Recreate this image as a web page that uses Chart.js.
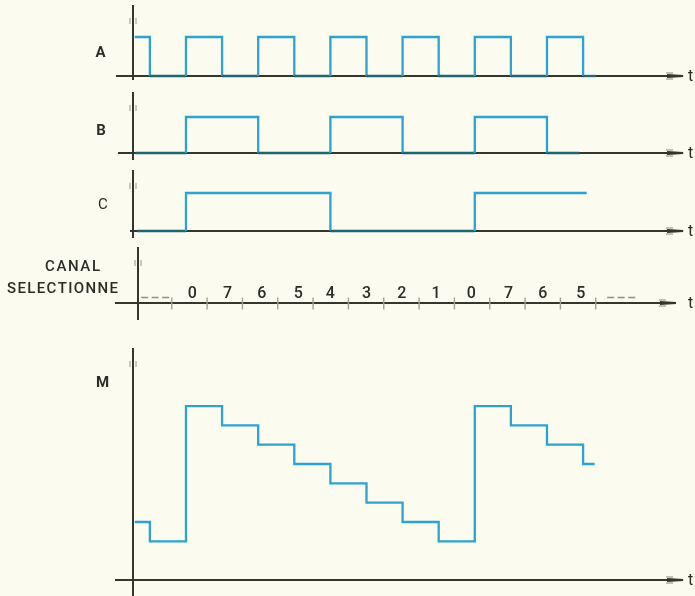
<!DOCTYPE html>
<html>
<head>
<meta charset="utf-8">
<style>
  html, body { margin: 0; padding: 0; background: #fbfbf0; }
  #wrap { position: relative; width: 695px; height: 596px; overflow: hidden; background: #fbfbf0; }
  #wrap canvas { position: absolute; left: 0; }
</style>
</head>
<body>
<div id="wrap"></div>

<script src="https://cdn.jsdelivr.net/npm/chart.js"></script>

<script>
  // time is counted in channel slots, every edge falls on a whole slot
  const a_times = [-0.42, 0, 1, 2, 3, 4, 5, 6, 7, 8, 9, 10, 11, 12, 12.36];
  const a_levels = [1, 0, 1, 0, 1, 0, 1, 0, 1, 0, 1, 0, 1, 0, 0];

  const b_times = [-0.4, 1, 3, 5, 7, 9, 11, 11.9];
  const b_levels = [0, 1, 0, 1, 0, 1, 0, 0];

  const c_times = [-0.35, 1, 5, 9, 12.1];
  const c_levels = [0, 1, 0, 1, 1];

  const canal_labels = ['---', '0', '7', '6', '5', '4', '3', '2', '1', '0', '7', '6', '5', '---'];
  const canal_label_times = [0.03, 1.08, 2.08, 3.05, 4.08, 4.99, 6.01, 7.01, 7.98, 8.98, 10.03, 11.0, 12.08, 13.22];
  const canal_ticks = [0.5, 1.5, 2.5, 3.5, 4.5, 5.5, 6.5, 7.5, 8.5, 9.5, 10.5, 11.5, 12.5];

  // M output level (staircase), channel 0 highest
  const m_times = [-0.42, 0, 1, 2, 3, 4, 5, 6, 7, 8, 9, 10, 11, 12, 12.32];
  const m_levels = [3, 2, 9, 8, 7, 6, 5, 4, 3, 2, 9, 8, 7, 6, 6];

  const BLUE = '#2ea3cf';
  const LOW_TEAL = '#1f6672';
  const INK = '#34372d';
  const TEXT = '#2b2d27';

  const X_MIN = -4.152, X_MAX = 15.1;   // 36.1 px per slot over 695 px
  const AXIS_T = -0.468;
  const ARROW_T = 14.77;
  const W = 695;

  // panel layout in page pixels
  const panels = [
    { top: 0, height: 84, zeroY: 76, unit: 39, axisTop: 5, axisBottom: 80, lineLeft: 116,
      label: 'A', labelX: 100.5, labelBase: 57, labelFont: 'bold 15px Roboto', times: a_times, levels: a_levels },
    { top: 84, height: 78, zeroY: 153, unit: 36, axisTop: 92, axisBottom: 160, lineLeft: 118,
      label: 'B', labelX: 101, labelBase: 135, labelFont: 'bold 15px Roboto', times: b_times, levels: b_levels },
    { top: 162, height: 78, zeroY: 231, unit: 38, axisTop: 170, axisBottom: 238, lineLeft: 130,
      label: 'C', labelX: 103, labelBase: 209, labelFont: '15px Roboto', times: c_times, levels: c_levels },
    { top: 240, height: 84, zeroY: 308, unit: 20, axisTop: 247, axisBottom: 320, lineLeft: 115, canal: true },
    { top: 330, height: 266, zeroY: 580, unit: 19.33, axisTop: 348, axisBottom: 600, lineLeft: 115,
      label: 'M', labelX: 102.5, labelBase: 387, labelFont: 'bold 15px Roboto', times: m_times, levels: m_levels },
  ];

  function cornerPoints(times, levels) {
    const pts = [{ x: times[0], y: levels[0] }];
    for (let i = 1; i < times.length; i++) {
      if (levels[i] !== levels[i - 1]) pts.push({ x: times[i], y: levels[i - 1] });
      pts.push({ x: times[i], y: levels[i] });
    }
    return pts;
  }

  // letters spread evenly between left and right
  function drawSpaced(ctx, text, left, right, base) {
    const widths = [...text].map(ch => ctx.measureText(ch).width);
    const total = widths.reduce((s, w) => s + w, 0);
    const gap = text.length > 1 ? (right - left - total) / (text.length - 1) : 0;
    let x = left;
    ctx.textAlign = 'left';
    [...text].forEach((ch, i) => { ctx.fillText(ch, x, base); x += widths[i] + gap; });
  }

  function panelPlugin(p) {
    return {
      id: 'timing',
      beforeDatasetsDraw(chart) {
        const ctx = chart.ctx, xs = chart.scales.x, ys = chart.scales.y;
        const ax = Math.round(xs.getPixelForValue(AXIS_T));
        const zy = Math.round(ys.getPixelForValue(0));
        const end = xs.getPixelForValue(ARROW_T);
        ctx.save();
        ctx.strokeStyle = INK;
        ctx.lineWidth = 2;
        ctx.beginPath();
        ctx.moveTo(ax, p.axisTop - p.top);
        ctx.lineTo(ax, p.axisBottom - p.top);
        ctx.moveTo(p.lineLeft, zy);
        ctx.lineTo(end, zy);
        ctx.stroke();
        // faint printed arrow heads
        ctx.strokeStyle = 'rgba(110,112,95,0.55)';
        ctx.lineWidth = 1.3;
        const at = p.axisTop - p.top + 13;
        ctx.beginPath();
        ctx.moveTo(ax - 3, at); ctx.lineTo(ax - 3, at + 6);
        ctx.moveTo(ax + 3, at); ctx.lineTo(ax + 3, at + 6);
        ctx.moveTo(end - 17, zy - 3); ctx.lineTo(end - 10, zy - 3);
        ctx.moveTo(end - 17, zy + 3); ctx.lineTo(end - 10, zy + 3);
        ctx.stroke();
        ctx.fillStyle = INK;
        ctx.beginPath();
        ctx.moveTo(end - 16, zy - 2); ctx.lineTo(end, zy - 1); ctx.lineTo(end, zy + 1); ctx.lineTo(end - 16, zy + 2);
        ctx.closePath();
        ctx.fill();
        ctx.restore();
      },
      afterDraw(chart) {
        const ctx = chart.ctx, xs = chart.scales.x, ys = chart.scales.y;
        const zy = ys.getPixelForValue(0);
        ctx.save();
        ctx.fillStyle = TEXT;
        ctx.font = '16px Roboto';
        ctx.textAlign = 'left';
        ctx.fillText('t', 688, zy + 5);
        if (p.label) {
          ctx.font = p.labelFont;
          ctx.textAlign = 'center';
          ctx.fillText(p.label, p.labelX, p.labelBase - p.top);
        }
        if (p.canal) {
          ctx.font = '500 15px Roboto';
          drawSpaced(ctx, 'CANAL', 45, 100, 271 - p.top);
          drawSpaced(ctx, 'SELECTIONNE', 7, 118, 293 - p.top);
          ctx.font = '500 16px Roboto';
          canal_labels.forEach((s, i) => {
            const x = xs.getPixelForValue(canal_label_times[i]);
            if (s === '---') {
              ctx.save();
              ctx.strokeStyle = '#8f9183';
              ctx.lineWidth = 1.6;
              ctx.setLineDash([7, 3.5]);
              ctx.beginPath();
              ctx.moveTo(x - 14, 297.5 - p.top);
              ctx.lineTo(x + 15, 297.5 - p.top);
              ctx.stroke();
              ctx.restore();
            } else {
              ctx.textAlign = 'center';
              ctx.fillText(s, x, 298 - p.top);
            }
          });
        }
        ctx.restore();
      }
    };
  }

  function buildPanel(p) {
    const canvas = document.createElement('canvas');
    canvas.width = W;
    canvas.height = p.height;
    canvas.style.top = p.top + 'px';
    document.getElementById('wrap').appendChild(canvas);

    const zeroLocal = p.zeroY - p.top;
    const yMax = zeroLocal / p.unit;
    const yMin = -(p.height - zeroLocal) / p.unit;

    const datasets = [];
    if (p.times) {
      datasets.push({
        data: cornerPoints(p.times, p.levels),
        borderColor: BLUE,
        borderWidth: 2.3,
        pointRadius: 0,
        borderJoinStyle: 'miter',
        segment: {
          borderColor: c => (c.p0.parsed.y === 0 && c.p1.parsed.y === 0) ? LOW_TEAL : BLUE
        }
      });
    }
    if (p.canal) {
      datasets.push({
        data: canal_ticks.map(t => ({ x: t, y: 0 })),
        showLine: false,
        pointStyle: 'line',
        rotation: 90,
        pointRadius: 6,
        pointBorderColor: '#a3a390',
        pointBorderWidth: 1.4
      });
    }

    new Chart(canvas, {
      type: 'line',
      data: { datasets },
      plugins: [panelPlugin(p)],
      options: {
        responsive: false,
        animation: false,
        devicePixelRatio: 1,
        layout: { padding: 0 },
        scales: {
          x: { type: 'linear', min: X_MIN, max: X_MAX, display: false },
          y: { type: 'linear', min: yMin, max: yMax, display: false }
        },
        plugins: { legend: { display: false }, tooltip: { enabled: false } }
      }
    });
  }

  panels.forEach(buildPanel);
</script>
</body>
</html>
